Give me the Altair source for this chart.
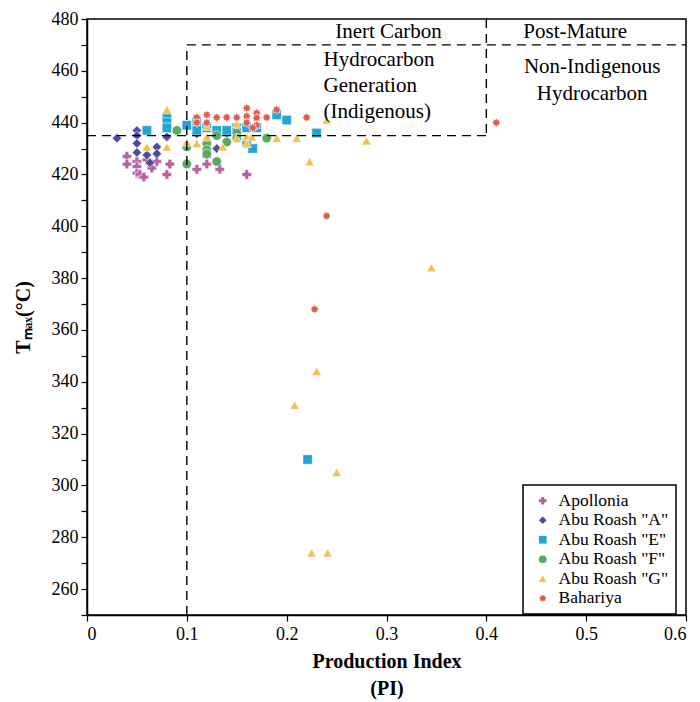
import math
import altair as alt
import pandas as pd

# ---------------- data ----------------
series = ["Apollonia", 'Abu Roash "A"', 'Abu Roash "E"', 'Abu Roash "F"', 'Abu Roash "G"', "Bahariya"]
colors = ["#b563a5", "#4f4aa0", "#24a4d4", "#57ab60", "#f1c24f", "#d8604f"]

apollonia_pi = [0.04, 0.04, 0.05, 0.05, 0.05, 0.053, 0.057, 0.06, 0.065, 0.07, 0.083, 0.08, 0.11, 0.12, 0.12, 0.133, 0.16]
apollonia_tmax = [427, 424, 425, 423, 420.5, 420, 419, 425.6, 422.5, 425, 424, 420, 422, 427, 424, 422, 420]

abuA_pi = [0.03, 0.05, 0.05, 0.05, 0.05, 0.06, 0.063, 0.07, 0.07, 0.08, 0.11, 0.13, 0.14]
abuA_tmax = [434, 437, 435, 432, 428.5, 427.5, 424.5, 430.6, 428, 434.5, 435.7, 430, 436]

abuE_pi = [0.06, 0.08, 0.08, 0.08, 0.1, 0.11, 0.11, 0.12, 0.13, 0.14, 0.15, 0.16, 0.17, 0.16, 0.166, 0.19, 0.2, 0.23, 0.221]
abuE_tmax = [437, 442, 440, 438, 439, 440, 437, 438, 437, 437, 438, 438, 438, 432, 430, 443, 441, 436, 310]

abuF_pi = [0.09, 0.1, 0.1, 0.12, 0.12, 0.12, 0.13, 0.13, 0.14, 0.15, 0.18, 0.15]
abuF_tmax = [437, 430.6, 424, 432, 429.5, 428, 425, 435, 432.5, 436, 434, 434]

abuG_pi = [0.08, 0.08, 0.06, 0.1, 0.11, 0.12, 0.12, 0.136, 0.15, 0.15, 0.16, 0.165, 0.16, 0.19, 0.21,
           0.223, 0.24, 0.28, 0.345, 0.23, 0.208, 0.25, 0.225, 0.241]
abuG_tmax = [445, 430.6, 430.6, 432.5, 432, 434.5, 438.6, 430.6, 439.5, 434, 434.5, 434.5, 432, 434, 434,
             425, 441, 433, 384, 344, 331, 305, 274, 274]

bahariya_pi = [0.11, 0.11, 0.12, 0.12, 0.13, 0.14, 0.15, 0.16, 0.16, 0.16, 0.17, 0.17, 0.17, 0.166, 0.18,
               0.19, 0.22, 0.41, 0.24, 0.228]
bahariya_tmax = [442, 440, 443, 440, 442, 442, 442, 445.6, 442.5, 440, 443.7, 441.8, 439, 438, 442,
                 445, 442, 440, 404, 368]

# region boundaries (dashed)
seg_x = [0.1, 0.1, 0.4, 0.0]
seg_x2 = [0.1, 0.6, 0.4, 0.4]
seg_y = [250, 470, 480, 435]
seg_y2 = [470, 470, 435, 435]

# annotations
centered_text = ["Inert Carbon", "Post-Mature", "Non-Indigenous", "Hydrocarbon"]
centered_x = [0.302, 0.489, 0.506, 0.506]
centered_y = [475, 475, 461.5, 451]
left_text = ["Hydrocarbon", "Generation", "(Indigenous)"]
left_x = [0.237, 0.237, 0.237]
left_y = [464, 454, 444]

x_ticks = [0, 0.1, 0.2, 0.3, 0.4, 0.5, 0.6]
y_ticks = list(range(250, 481, 10))

# ---------------- build ----------------
pairs = [(apollonia_pi, apollonia_tmax), (abuA_pi, abuA_tmax), (abuE_pi, abuE_tmax),
         (abuF_pi, abuF_tmax), (abuG_pi, abuG_tmax), (bahariya_pi, bahariya_tmax)]
rows = []
for name, (xs, ys) in zip(series, pairs):
    for a, b in zip(xs, ys):
        rows.append({"PI": a, "Tmax": b, "Formation": name})
df = pd.DataFrame(rows)

pts = []
for k in range(16):
    ang = k * math.pi / 8
    r = 1.0 if k % 2 == 0 else 0.62
    pts.append(f"{r*math.sin(ang):.3f},{-r*math.cos(ang):.3f}")
star = "M" + "L".join(pts) + "Z"
shapes = ["cross", "diamond", "square", "circle", "triangle-up", star]

FONT = "Liberation Serif"
xscale = alt.Scale(domain=[0, 0.6], nice=False, zero=False)
yscale = alt.Scale(domain=[250, 480], nice=False, zero=False)
xaxis = alt.Axis(title=["Production Index", "(PI)"], values=x_ticks,
                 format="~g", grid=False, tickSize=6, labelPadding=4, titlePadding=8,
                 titleLineHeight=27, labelOverlap=False)
yaxis = alt.Axis(title="Tₘₐₓ(°C)", values=y_ticks,
                 labelExpr="datum.value % 20 == 0 ? datum.label : ''",
                 labelOverlap=False, grid=False, tickSize=6, labelPadding=3, titlePadding=18)

points = alt.Chart(df).mark_point(filled=True, opacity=1, size=90, stroke="white", strokeWidth=0.6).encode(
    x=alt.X("PI:Q", scale=xscale, axis=xaxis),
    y=alt.Y("Tmax:Q", scale=yscale, axis=yaxis),
    color=alt.Color("Formation:N", scale=alt.Scale(domain=series, range=colors),
                    legend=alt.Legend(title=None, orient="none", legendX=436, legendY=466)),
    shape=alt.Shape("Formation:N", scale=alt.Scale(domain=series, range=shapes)),
)

seg_df = pd.DataFrame({"x": seg_x, "x2": seg_x2, "y": seg_y, "y2": seg_y2})
rules = alt.Chart(seg_df).mark_rule(color="black", strokeWidth=1.4, strokeDash=[9, 6]).encode(
    x=alt.X("x:Q", scale=xscale, axis=xaxis), x2="x2:Q",
    y=alt.Y("y:Q", scale=yscale, axis=yaxis), y2="y2:Q")

cdf = pd.DataFrame({"t": centered_text, "x": centered_x, "y": centered_y})
ctext = alt.Chart(cdf).mark_text(font=FONT, fontSize=21, align="center", baseline="middle", color="black").encode(
    x=alt.X("x:Q", scale=xscale, axis=xaxis), y=alt.Y("y:Q", scale=yscale, axis=yaxis), text="t:N")
ldf = pd.DataFrame({"t": left_text, "x": left_x, "y": left_y})
ltext = alt.Chart(ldf).mark_text(font=FONT, fontSize=21, align="left", baseline="middle", color="black").encode(
    x=alt.X("x:Q", scale=xscale, axis=xaxis), y=alt.Y("y:Q", scale=yscale, axis=yaxis), text="t:N")

chart = alt.layer(points, rules, ctext, ltext).properties(
    width=599, height=596,
    autosize=alt.AutoSizeParams(type="none"),
    padding={"left": 87, "top": 19, "right": 14, "bottom": 87},
).configure_view(stroke="black", strokeWidth=1.5).configure_axis(
    domainColor="black", domainWidth=1.5, tickColor="black", tickWidth=1.2,
    labelFont=FONT, labelFontSize=18, labelColor="black",
    titleFont=FONT, titleFontSize=20, titleFontWeight="bold", titleColor="black",
).configure_legend(
    labelFont=FONT, labelFontSize=17.5, labelColor="black", strokeColor="black", strokeWidth=1.5,
    fillColor="white", padding=7, rowPadding=0.5, symbolSize=60, symbolStrokeWidth=0,
    symbolOffset=4, labelOffset=7,
)

chart.save("out.html", embed_options={"renderer": "svg", "actions": False})
